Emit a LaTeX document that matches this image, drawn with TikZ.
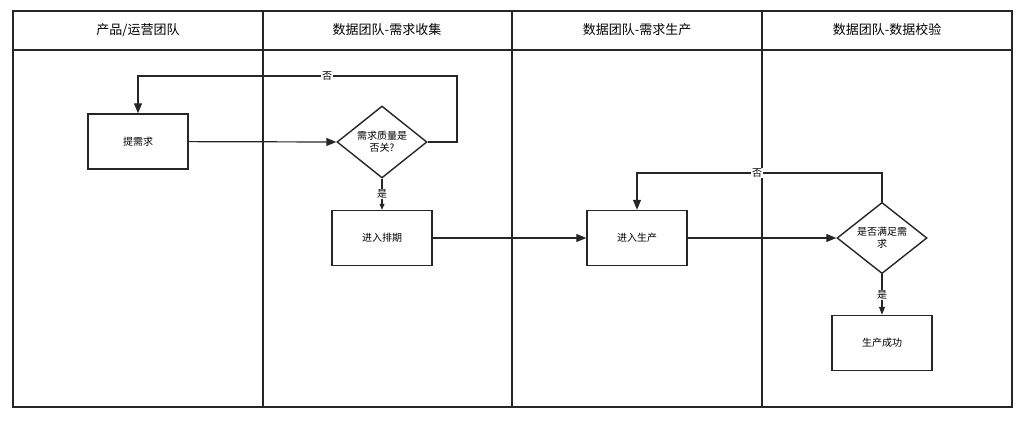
\documentclass[tikz,border=0pt]{standalone}
\usepackage{fontspec}
\setmainfont{Noto Sans CJK SC}
\usetikzlibrary{shapes.geometric,arrows.meta}
\begin{document}
\begin{tikzpicture}[x=1pt,y=-1pt,
  ln/.style={draw=black!85,line width=1.4pt},
  box/.style={draw=black!85,line width=1.4pt,minimum width=100pt,minimum height=55pt,font=\fontsize{10}{12}\selectfont,fill=white},
  dia/.style={draw=black!85,line width=1.4pt,diamond,minimum width=90pt,minimum height=72pt,inner sep=0pt,align=center,font=\fontsize{10}{12}\selectfont,fill=white},
  hd/.style={font=\fontsize{13}{15}\selectfont},
  arr/.style={draw=black!85,line width=1.2pt,-{Triangle[length=10pt,width=8pt]}},
  lbl/.style={fill=white,inner sep=1pt,font=\fontsize{10}{12}\selectfont}]
\useasboundingbox (0,0) rectangle (1034,425);
\draw[ln] (13,11) rectangle (1012,407);
\draw[ln] (13,50) -- (1012,50);
\foreach \x in {263,512,762} \draw[ln] (\x,11) -- (\x,407);
\node[hd] (h1) at (138,30) {产品/运营团队};
\node[hd] (h2) at (387,30) {数据团队-需求收集};
\node[hd] (h3) at (637,30) {数据团队-需求生产};
\node[hd] (h4) at (887,30) {数据团队-数据校验};
\node[box] (a) at (138,141.5) {提需求};
\node[dia] (d1) at (382,142) {需求质量是\\否关?};
\node[box] (b) at (382,238) {进入排期};
\node[box] (c) at (637,238) {进入生产};
\node[dia,minimum height=70pt] (d2) at (882,238) {是否满足需\\求};
\node[box] (e) at (882,343) {生产成功};
\draw[arr] (a) -- (d1.west);
\draw[arr] (d1.east) -- (457,142) -- (457,76) -- (138,76) -- (a.north);
\node[lbl] (n1) at (327,76) {否};
\draw[arr,-{Triangle[length=6pt,width=5pt]}] (d1.south) -- (b.north);
\node[lbl] (y1) at (382,194) {是};
\draw[arr] (b) -- (c);
\draw[arr] (c) -- (d2.west);
\draw[arr] (d2.north) -- (882,173) -- (637,173) -- (c.north);
\node[lbl] (n2) at (757,173) {否};
\draw[arr,-{Triangle[length=8pt,width=6pt]}] (d2.south) -- (e.north);
\node[lbl] (y2) at (882,295) {是};
\end{tikzpicture}
\end{document}
